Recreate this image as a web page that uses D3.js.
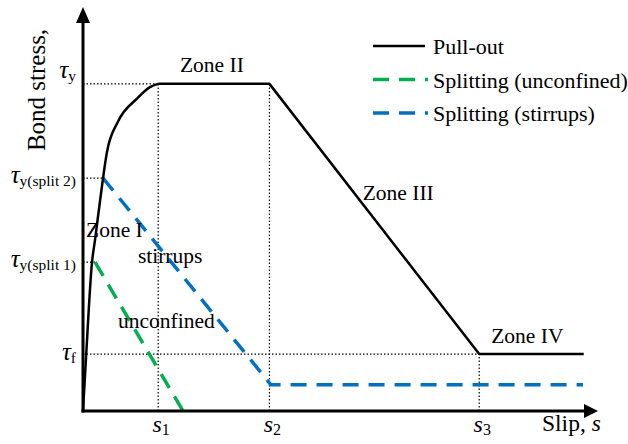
<!DOCTYPE html>
<meta charset="utf-8">
<style>
  body { margin: 0; background: #fff; }
  svg text { font-family: "Liberation Serif", "Times New Roman", serif; fill: #000; }
  .curve { fill: none; stroke-linejoin: round; }
  .guide { stroke: #000; stroke-width: 1.2; stroke-dasharray: 1.5,2; fill: none; }
</style>
<svg width="628" height="444"></svg>
<script src="https://d3js.org/d3.v7.min.js"></script>
<script>
// Pull-out curve: rising branch (Zone I) then plateau / softening / residual
var pulloutSlip = [0, 0.04, 0.12, 0.16, 0.228, 0.319, 0.466, 0.718, 0.891, 1.0];
var pulloutStress = [0, 0.162, 0.455, 0.523, 0.645, 0.792, 0.885, 0.955, 0.99, 1.0];
var pulloutTailSlip = [1.0, 2.48, 5.27, 6.66];
var pulloutTailStress = [1.0, 1.0, 0.174, 0.174];

// Splitting branches
var unconfinedSlip = [0.16, 1.33];
var unconfinedStress = [0.455, 0];
var stirrupSlip = [0.266, 2.5, 6.65];
var stirrupStress = [0.712, 0.08, 0.08];

// Characteristic values
var slipTickValues = [1.0, 2.48, 5.27];
var slipTickSubs = ["1", "2", "3"];
var stressTickValues = [1.0, 0.712, 0.455, 0.174];
var stressTickSubs = ["y", "y(split 2)", "y(split 1)", "f"];

var legendNames = ["Pull-out", "Splitting (unconfined)", "Splitting (stirrups)"];
var green = "#00b050", blue = "#0070c0";

var svg = d3.select("svg");

var x = d3.scaleLinear().domain([0, 6.85]).range([83, 598]);
var y = d3.scaleLinear().domain([0, 1.235]).range([411, 7]);

function pts(xs, ys) { return xs.map(function (v, i) { return [v, ys[i]]; }); }

// dotted guide lines
var guides = [
  [[0, 1.0], [1.0, 1.0]],
  [[0, 0.712], [0.266, 0.712]],
  [[0, 0.455], [0.16, 0.455]],
  [[0, 0.174], [5.27, 0.174]],
  [[1.0, 0], [1.0, 1.0]],
  [[2.48, 0], [2.48, 1.0]],
  [[5.27, 0], [5.27, 0.174]]
];
var lineLin = d3.line().x(function (d) { return x(d[0]); }).y(function (d) { return y(d[1]); });
svg.append("g").selectAll("path").data(guides).enter().append("path")
  .attr("class", "guide").attr("d", lineLin);

// curves
var lineSmooth = d3.line().curve(d3.curveMonotoneX)
  .x(function (d) { return x(d[0]); }).y(function (d) { return y(d[1]); });

svg.append("path").attr("class", "curve")
  .attr("stroke", green).attr("stroke-width", 3.5).attr("stroke-dasharray", "16,10")
  .attr("d", lineLin(pts(unconfinedSlip, unconfinedStress)));
svg.append("path").attr("class", "curve")
  .attr("stroke", blue).attr("stroke-width", 3.5).attr("stroke-dasharray", "16,10")
  .attr("d", lineLin(pts(stirrupSlip, stirrupStress)));
svg.append("path").attr("class", "curve")
  .attr("stroke", "#000").attr("stroke-width", 2.5)
  .attr("d", lineSmooth(pts(pulloutSlip, pulloutStress)));
svg.append("path").attr("class", "curve")
  .attr("stroke", "#000").attr("stroke-width", 2.5)
  .attr("d", lineLin(pts(pulloutTailSlip, pulloutTailStress)));

// axes with arrows
var x0 = x(0), y0 = y(0);
svg.append("line").attr("x1", x0).attr("y1", y0 + 1.5).attr("x2", x0).attr("y2", y.range()[1] + 10)
  .attr("stroke", "#000").attr("stroke-width", 3);
svg.append("line").attr("x1", x0 - 1.5).attr("y1", y0).attr("x2", x.range()[1] - 10).attr("y2", y0)
  .attr("stroke", "#000").attr("stroke-width", 3);
var yt = y.range()[1], xt = x.range()[1];
svg.append("path").attr("d", "M" + x0 + "," + yt + "L" + (x0 - 7) + "," + (yt + 16) + "L" + (x0 + 7) + "," + (yt + 16) + "Z");
svg.append("path").attr("d", "M" + xt + "," + y0 + "L" + (xt - 14) + "," + (y0 - 7) + "L" + (xt - 14) + "," + (y0 + 7) + "Z");

// x tick labels
var sl = svg.append("g").selectAll("text").data(slipTickValues).enter().append("text")
  .attr("x", function (d) { return x(d) + 3; }).attr("y", 432)
  .attr("text-anchor", "middle").style("font-size", "24px");
sl.append("tspan").style("font-style", "italic").text("s");
sl.append("tspan").attr("dy", 3).style("font-size", "16px").text(function (d, i) { return slipTickSubs[i]; });

// y tick labels
var labelDy = [-6, 5, 5, 6];
var tl = svg.append("g").selectAll("text").data(stressTickValues).enter().append("text")
  .attr("x", 76).attr("y", function (d, i) { return y(d) + labelDy[i]; })
  .attr("text-anchor", "end").style("font-size", "25px");
tl.append("tspan").style("font-style", "italic").text("\u03c4");
tl.append("tspan").attr("dy", 3).style("font-size", "15.5px").text(function (d, i) { return stressTickSubs[i]; });

// axis titles
var st = svg.append("text").attr("x", 542).attr("y", 431).style("font-size", "23.5px");
st.append("tspan").text("Slip, ");
st.append("tspan").style("font-style", "italic").text("s");
svg.append("text").attr("transform", "translate(45,90) rotate(-90)")
  .attr("text-anchor", "middle").style("font-size", "25px").text("Bond stress,");

// zone annotations
var notes = [
  ["Zone I", 0.04, 0.532], ["Zone II", 1.29, 1.036], ["Zone III", 3.72, 0.645],
  ["Zone IV", 5.43, 0.208], ["stirrups", 0.73, 0.452], ["unconfined", 0.466, 0.254]
];
svg.append("g").selectAll("text").data(notes).enter().append("text")
  .attr("x", function (d) { return x(d[1]); }).attr("y", function (d) { return y(d[2]); })
  .style("font-size", "21.5px").text(function (d) { return d[0]; });

// legend
var legColors = ["#000", green, blue];
var lg = svg.append("g").attr("transform", "translate(373,46)");
var row = lg.selectAll("g").data(legendNames).enter().append("g")
  .attr("transform", function (d, i) { return "translate(0," + (i * 33.5) + ")"; });
row.append("line").attr("x1", 0).attr("x2", function (d, i) { return i ? 55 : 52; })
  .attr("stroke", function (d, i) { return legColors[i]; })
  .attr("stroke-width", function (d, i) { return i ? 3.5 : 2.5; })
  .attr("stroke-dasharray", function (d, i) { return i ? "16,10" : null; });
row.append("text").attr("x", 60).attr("y", 8).style("font-size", "22px").text(function (d) { return d; });
</script>
